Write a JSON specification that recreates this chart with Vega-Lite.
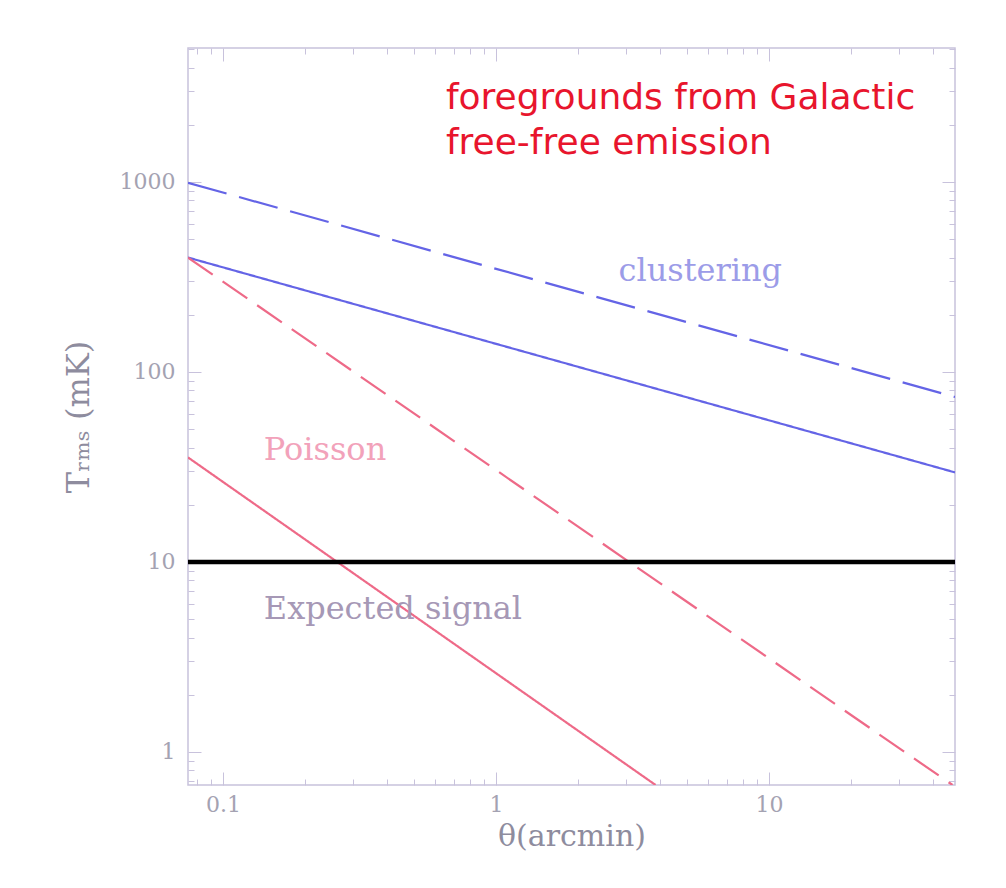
{
  "$schema": "https://vega.github.io/schema/vega-lite/v6.json",
  "autosize": {"type": "none"},
  "padding": {"left": 188, "top": 48, "right": 51, "bottom": 103},
  "width": 767,
  "height": 737,
  "background": "#ffffff",
  "config": {
    "view": {"stroke": "#c8c2dc", "strokeWidth": 1.5},
    "axis": {"grid": false, "domain": false}
  },
  "datasets": {
    "lines": [
      {"series": "clustering dashed", "theta": 0.0744, "T": 990},
      {"series": "clustering dashed", "theta": 48, "T": 73.8},
      {"series": "clustering solid", "theta": 0.0744, "T": 400},
      {"series": "clustering solid", "theta": 48, "T": 29.6},
      {"series": "Poisson dashed", "theta": 0.0744, "T": 400},
      {"series": "Poisson dashed", "theta": 47, "T": 0.67},
      {"series": "Poisson solid", "theta": 0.0744, "T": 35.5},
      {"series": "Poisson solid", "theta": 3.84, "T": 0.67}
    ],
    "signal": [
      {"series": "Expected signal", "theta": 0.0744, "T": 10},
      {"series": "Expected signal", "theta": 48, "T": 10}
    ],
    "title": [
      {"label": "foregrounds from Galactic", "theta": 0.655, "T": 2780},
      {"label": "free-free emission", "theta": 0.655, "T": 1610}
    ],
    "clust": [{"label": "clustering", "theta": 5.6, "T": 338}],
    "poisson": [{"label": "Poisson", "theta": 0.141, "T": 39}],
    "expected": [{"label": "Expected signal", "theta": 0.141, "T": 5.64}]
  },
  "resolve": {"axis": {"x": "independent", "y": "independent"}},
  "layer": [
    {
      "data": {"name": "lines"},
      "mark": {"type": "line", "clip": true, "strokeWidth": 2.2},
      "encoding": {
        "x": {
          "field": "theta", "type": "quantitative",
          "scale": {"type": "log", "domain": [0.0744, 48], "nice": false},
          "axis": {
            "orient": "bottom",
            "values": [0.08, 0.09, 0.1, 0.2, 0.3, 0.4, 0.5, 0.6, 0.7, 0.8, 0.9, 1, 2, 3, 4, 5, 6, 7, 8, 9, 10, 20, 30, 40],
            "labelExpr": "datum.value == 0.1 ? '0.1' : datum.value == 1 ? '1' : datum.value == 10 ? '10' : ''",
            "tickSize": {"condition": {"test": "datum.value == 0.1 || datum.value == 1 || datum.value == 10", "value": -13}, "value": -6},
            "tickColor": "#c8c2dc",
            "labelFont": "DejaVu Serif", "labelFontSize": 22, "labelColor": "#a4a2b2",
            "labelPadding": 22,
            "title": "θ(arcmin)",
            "titleFont": "DejaVu Serif", "titleFontSize": 30, "titleFontWeight": "normal", "titleColor": "#8e8c9e",
            "titlePadding": 6
          }
        },
        "y": {
          "field": "T", "type": "quantitative",
          "scale": {"type": "log", "domain": [0.67, 5070], "nice": false},
          "axis": {
            "orient": "left",
            "values": [0.7, 0.8, 0.9, 1, 2, 3, 4, 5, 6, 7, 8, 9, 10, 20, 30, 40, 50, 60, 70, 80, 90, 100, 200, 300, 400, 500, 600, 700, 800, 900, 1000, 2000, 3000, 4000, 5000],
            "labelExpr": "datum.value == 1 ? '1' : datum.value == 10 ? '10' : datum.value == 100 ? '100' : datum.value == 1000 ? '1000' : ''",
            "tickSize": {"condition": {"test": "datum.value == 1 || datum.value == 10 || datum.value == 100 || datum.value == 1000", "value": -13}, "value": -6},
            "tickColor": "#c8c2dc",
            "labelFont": "DejaVu Serif", "labelFontSize": 22, "labelColor": "#a4a2b2",
            "labelPadding": 26,
            "title": "Tᵣₘₛ (mK)",
            "titleFont": "DejaVu Serif", "titleFontSize": 32, "titleFontWeight": "normal", "titleColor": "#8e8c9e",
            "titlePadding": 24
          }
        },
        "detail": {"field": "series"},
        "color": {
          "field": "series", "type": "nominal", "legend": null,
          "scale": {
            "domain": ["clustering dashed", "clustering solid", "Poisson dashed", "Poisson solid"],
            "range": ["#6464e6", "#6464e6", "#ee6a88", "#ee6a88"]
          }
        },
        "strokeDash": {
          "field": "series", "type": "nominal", "legend": null,
          "scale": {
            "domain": ["clustering dashed", "clustering solid", "Poisson dashed", "Poisson solid"],
            "range": [[40, 13], [1, 0], [30, 12], [1, 0]]
          }
        }
      }
    },
    {
      "data": {"name": "signal"},
      "mark": {"type": "line", "clip": true, "strokeWidth": 4.5, "color": "#000000"},
      "encoding": {
        "x": {"field": "theta", "type": "quantitative", "axis": null},
        "y": {"field": "T", "type": "quantitative", "axis": null}
      }
    },
    {
      "data": {"name": "lines"},
      "mark": {"type": "line", "opacity": 0},
      "encoding": {
        "x": {
          "field": "theta", "type": "quantitative",
          "axis": {
            "orient": "top", "labels": false, "title": null,
            "values": [0.08, 0.09, 0.1, 0.2, 0.3, 0.4, 0.5, 0.6, 0.7, 0.8, 0.9, 1, 2, 3, 4, 5, 6, 7, 8, 9, 10, 20, 30, 40],
            "tickSize": {"condition": {"test": "datum.value == 0.1 || datum.value == 1 || datum.value == 10", "value": -13}, "value": -6},
            "tickColor": "#c8c2dc"
          }
        },
        "y": {
          "field": "T", "type": "quantitative",
          "axis": {
            "orient": "right", "labels": false, "title": null,
            "values": [0.7, 0.8, 0.9, 1, 2, 3, 4, 5, 6, 7, 8, 9, 10, 20, 30, 40, 50, 60, 70, 80, 90, 100, 200, 300, 400, 500, 600, 700, 800, 900, 1000, 2000, 3000, 4000, 5000],
            "tickSize": {"condition": {"test": "datum.value == 1 || datum.value == 10 || datum.value == 100 || datum.value == 1000", "value": -13}, "value": -6},
            "tickColor": "#c8c2dc"
          }
        },
        "detail": {"field": "series"}
      }
    },
    {
      "data": {"name": "title"},
      "mark": {"type": "text", "align": "left", "baseline": "middle", "font": "DejaVu Sans", "fontSize": 36, "color": "#e8152d"},
      "encoding": {
        "x": {"field": "theta", "type": "quantitative", "axis": null},
        "y": {"field": "T", "type": "quantitative", "axis": null},
        "text": {"field": "label"}
      }
    },
    {
      "data": {"name": "clust"},
      "mark": {"type": "text", "align": "center", "baseline": "middle", "font": "DejaVu Serif", "fontSize": 32, "color": "#9c9ce8"},
      "encoding": {
        "x": {"field": "theta", "type": "quantitative", "axis": null},
        "y": {"field": "T", "type": "quantitative", "axis": null},
        "text": {"field": "label"}
      }
    },
    {
      "data": {"name": "poisson"},
      "mark": {"type": "text", "align": "left", "baseline": "middle", "font": "DejaVu Serif", "fontSize": 32, "color": "#f2a2ba"},
      "encoding": {
        "x": {"field": "theta", "type": "quantitative", "axis": null},
        "y": {"field": "T", "type": "quantitative", "axis": null},
        "text": {"field": "label"}
      }
    },
    {
      "data": {"name": "expected"},
      "mark": {"type": "text", "align": "left", "baseline": "middle", "font": "DejaVu Serif", "fontSize": 32, "color": "#a698b6"},
      "encoding": {
        "x": {"field": "theta", "type": "quantitative", "axis": null},
        "y": {"field": "T", "type": "quantitative", "axis": null},
        "text": {"field": "label"}
      }
    }
  ]
}
